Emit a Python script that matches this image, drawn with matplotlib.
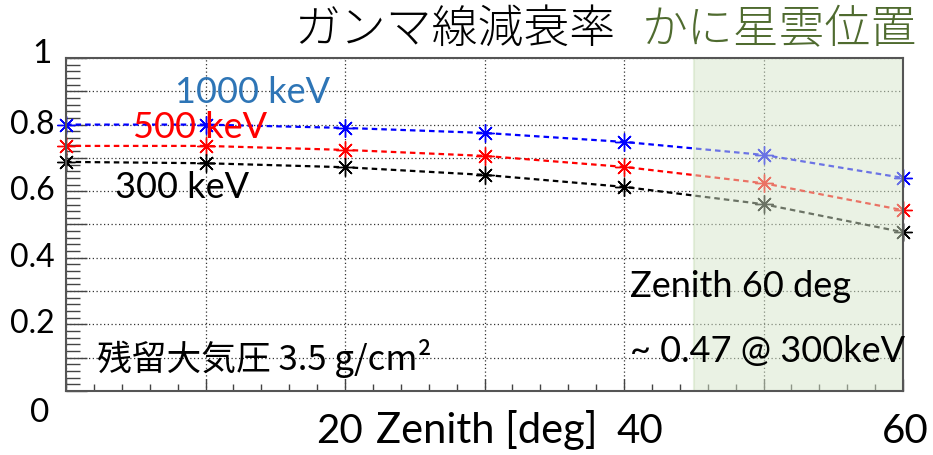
import matplotlib
matplotlib.use("Agg")
import matplotlib.pyplot as plt
from matplotlib.ticker import MultipleLocator
import numpy as np

# zenith angle [deg] and attenuation for each energy
zenith = [0, 10, 20, 30, 40, 50, 60]
att_1000 = [0.800, 0.800, 0.790, 0.775, 0.748, 0.709, 0.640]
att_500 = [0.736, 0.736, 0.724, 0.706, 0.673, 0.624, 0.543]
att_300 = [0.688, 0.684, 0.672, 0.649, 0.613, 0.561, 0.477]

ytick_vals = [0.2, 0.4, 0.6, 0.8]
ytick_labels = ["0.2", "0.4", "0.6", "0.8"]
crab_range = [45, 60]

W, H = 933, 455
fig = plt.figure(figsize=(W / 100, H / 100), dpi=100)
ax = fig.add_axes([66 / W, 1 - 391 / H, (903 - 66) / W, (391 - 58) / H])

def px(x, y):
    # pixel position -> figure fraction
    return x / W, 1 - y / H

latin = ["Lato", "Noto Sans CJK JP", "DejaVu Sans"]
cjk = ["Noto Sans CJK JP", "DejaVu Sans"]

ax.set_xlim(0, 60)
ax.set_ylim(0, 1)

dash = (0, (2.5, 1.8))
ast = (8, 2, 0)
for yy, col in [(att_1000, "#0000FF"), (att_500, "#FF0000"), (att_300, "black")]:
    ax.plot(zenith, yy, color=col, ls=dash, lw=1.6, marker=ast, ms=13, mew=1.0,
            zorder=3, clip_on=False)

# crab nebula zone (drawn over the lines, semi transparent)
ax.axvspan(crab_range[0], crab_range[1], facecolor="#D7E7CB", alpha=0.5,
           edgecolor="#CFE2C0", lw=1.5, zorder=4)

ax.xaxis.set_major_locator(MultipleLocator(10))
ax.xaxis.set_minor_locator(MultipleLocator(2))
ax.yaxis.set_major_locator(MultipleLocator(0.1))
ax.yaxis.set_minor_locator(MultipleLocator(0.02))
ax.grid(True, which="major", color="#333333", ls=(0, (1, 2)), lw=0.9, zorder=1)

ax.tick_params(axis="x", which="major", direction="in", length=9, width=1, color="#444444",
               labelbottom=False)
ax.tick_params(axis="x", which="minor", direction="in", length=5, width=1, color="#444444")
ax.tick_params(axis="y", which="major", direction="in", length=15, width=1, color="#444444",
               labelleft=False)
ax.tick_params(axis="y", which="minor", direction="in", length=10, width=1, color="#444444")

for s in ax.spines.values():
    s.set_color("#555555")
    s.set_linewidth(1.5)
    s.set_zorder(6)

# y labels
for v, lab in zip(ytick_vals, ytick_labels):
    ax.text(-0.013, v, lab, transform=ax.get_yaxis_transform(), ha="right", va="center",
            fontsize=23, family=latin)
fig.text(*px(42, 63), "1", ha="center", va="baseline", fontsize=24, family=latin)
fig.text(*px(40, 422), "0", ha="center", va="baseline", fontsize=24, family=latin)

# x labels
fig.text(*px(340, 443), "20", ha="center", va="baseline", fontsize=29, family=latin)
fig.text(*px(376, 443), "Zenith [deg]", ha="left", va="baseline", fontsize=30, family=latin)
fig.text(*px(640, 443), "40", ha="center", va="baseline", fontsize=29, family=latin)
fig.text(*px(905, 443), "60", ha="center", va="baseline", fontsize=29, family=latin)

# titles
fig.text(*px(455, 43), "ガンマ線減衰率", ha="center", va="baseline", fontsize=33, family=cjk,
         fontweight="light")
fig.text(*px(779, 43), "かに星雲位置", ha="center", va="baseline", fontsize=33, family=cjk,
         fontweight="light", color="#4F6B2F")

# series labels
fig.text(*px(175, 103), "1000 keV", ha="left", va="baseline", fontsize=26, family=latin,
         color="#2E75B6")
fig.text(*px(133, 138), "500 keV", ha="left", va="baseline", fontsize=26, family=latin,
         color="#FF0000")
fig.text(*px(115, 198), "300 keV", ha="left", va="baseline", fontsize=26, family=latin,
         color="black")

fig.text(*px(97, 370), "残留大気圧 3.5 g/cm²", ha="left", va="baseline", fontsize=25,
         family=["Noto Sans CJK JP", "Lato"])
fig.text(*px(630, 297), "Zenith 60 deg", ha="left", va="baseline", fontsize=26, family=latin)
fig.text(*px(630, 362), "~ 0.47 @ 300keV", ha="left", va="baseline", fontsize=26, family=latin)

fig.savefig("out.png", dpi=100)
